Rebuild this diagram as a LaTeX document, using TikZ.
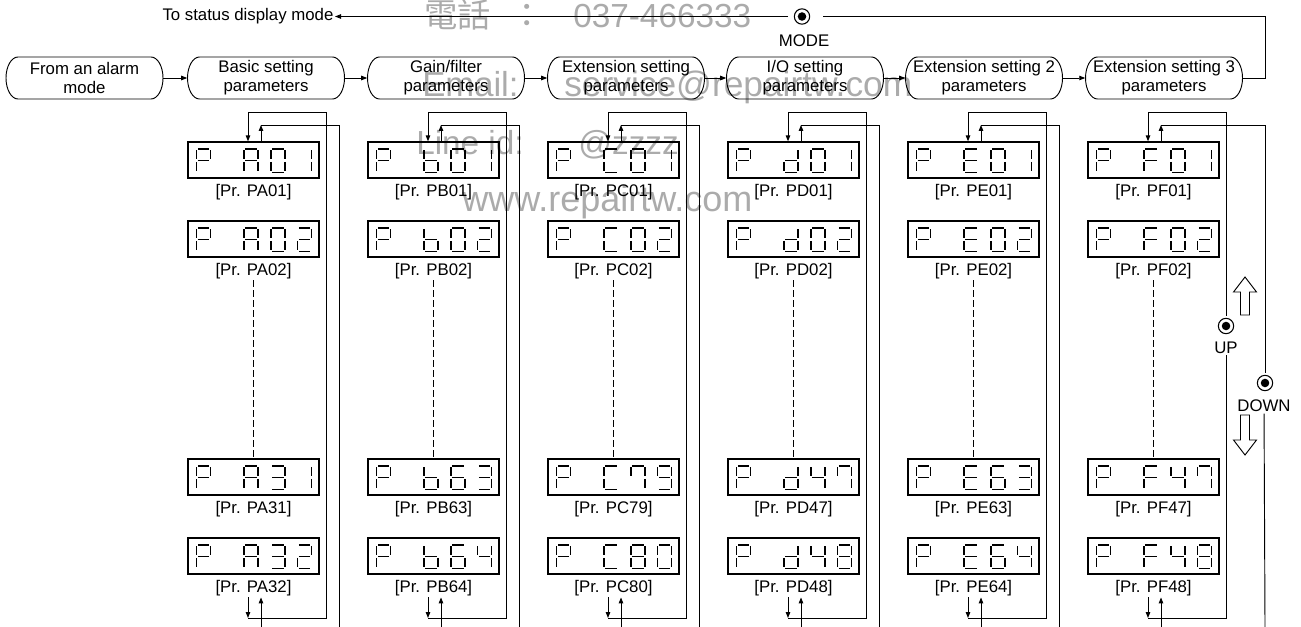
\documentclass[tikz,border=0pt]{standalone}
\usepackage{fontspec}
\setmainfont{Liberation Sans}
\newfontfamily\cjkfont{Noto Sans CJK TC}
\usetikzlibrary{arrows.meta,calc}
\newcommand\mainsz{\fontsize{12.6pt}{14.2pt}\selectfont}
\tikzset{
  conn/.style={line width=0.7pt},
  arr/.style={conn,-{Triangle[length=4.5pt,width=3.4pt]}},
  mbox/.style={minimum width=117.75pt, minimum height=31.5pt, inner sep=0pt, align=center, font=\mainsz},
  boxline/.style={line width=0.7pt},
  disp/.style={draw, line width=1pt, minimum width=98.25pt, minimum height=27pt, inner sep=0pt},
  seg/.style={line width=1.3pt},
  lab/.style={font=\mainsz, inner sep=1pt},
  dashline/.style={conn, dash pattern=on 5pt off 2.5pt},
  btn/.style={circle, draw, line width=0.8pt, minimum size=11.5pt, inner sep=0pt, outer sep=2pt,
    path picture={\fill (path picture bounding box.center) circle[radius=3.2pt];}},
  wm/.style={text=black!33, inner sep=0pt},
}
% seven segment definitions (digit width 14, mid 11.5, bottom 23.5)
\expandafter\def\csname svsga\endcsname{\draw[seg] (1.3,0) -- (12.7,0);}
\expandafter\def\csname svsgb\endcsname{\draw[seg] (14,1.3) -- (14,10.2);}
\expandafter\def\csname svsgc\endcsname{\draw[seg] (14,12.8) -- (14,22.2);}
\expandafter\def\csname svsgd\endcsname{\draw[seg] (1.3,23.5) -- (12.7,23.5);}
\expandafter\def\csname svsge\endcsname{\draw[seg] (0,12.8) -- (0,22.2);}
\expandafter\def\csname svsgf\endcsname{\draw[seg] (0,1.3) -- (0,10.2);}
\expandafter\def\csname svsgg\endcsname{\draw[seg] (1.3,11.5) -- (12.7,11.5);}
\expandafter\def\csname svchP\endcsname{a,b,e,f,g}
\expandafter\def\csname svchA\endcsname{a,b,c,e,f,g}
\expandafter\def\csname svchb\endcsname{c,d,e,f,g}
\expandafter\def\csname svchC\endcsname{a,d,e,f}
\expandafter\def\csname svchd\endcsname{b,c,d,e,g}
\expandafter\def\csname svchE\endcsname{a,d,e,f,g}
\expandafter\def\csname svchF\endcsname{a,e,f,g}
\expandafter\def\csname svch0\endcsname{a,b,c,d,e,f}
\expandafter\def\csname svch1\endcsname{b,c}
\expandafter\def\csname svch2\endcsname{a,b,d,e,g}
\expandafter\def\csname svch3\endcsname{a,b,c,d,g}
\expandafter\def\csname svch4\endcsname{b,c,f,g}
\expandafter\def\csname svch6\endcsname{a,c,d,e,f,g}
\expandafter\def\csname svch7\endcsname{a,b,c,f}
\expandafter\def\csname svch8\endcsname{a,b,c,d,e,f,g}
\expandafter\def\csname svch9\endcsname{a,b,c,d,f,g}
\newcommand\sevchar[3]{\edef\svlist{\csname svch#3\endcsname}%
  \begin{scope}[shift={(#1,#2)}]\foreach \s in \svlist {\csname svsg\s\endcsname}\end{scope}}
\newcommand\sevdisp[6]{\node[disp] (#1) at (#2,#3) {};
  \sevchar{#2-57}{#3-11}{P}\sevchar{#2-9.5}{#3-11}{#4}%
  \sevchar{#2+17.5}{#3-11}{#5}\sevchar{#2+44}{#3-11}{#6}}
\newcommand\paramcol[8]{%
  \sevdisp{d#1a}{#2}{160}{#3}{0}{1}
  \node[lab] (l#1a) at (#2,192) {[Pr. P#401]};
  \sevdisp{d#1b}{#2}{239}{#3}{0}{2}
  \node[lab] (l#1b) at (#2,271) {[Pr. P#402]};
  \sevdisp{d#1c}{#2}{477}{#3}{#5}{#6}
  \node[lab] (l#1c) at (#2,509) {[Pr. P#4#5#6]};
  \sevdisp{d#1d}{#2}{556}{#3}{#7}{#8}
  \node[lab] (l#1d) at (#2,588) {[Pr. P#4#7#8]};
  \draw[dashline] (l#1b) -- (d#1c);}
\newcommand\colcoords[4]{%
  \coordinate (dn#1) at (#2-5.5,112);
  \coordinate (up#1) at (#2+7.5,125);
  \coordinate (dnb#1) at (#2-5.5,618);
  \coordinate (upb#1) at (#2+7.5,627);
  \coordinate (in#1t) at (#3,112);
  \coordinate (in#1b) at (#3,618);
  \coordinate (ou#1t) at (#4,125);
  \coordinate (ou#1b) at (#4,627);
  \draw[arr] (dn#1) -- (dn#1 |- d#1a.north);
  \draw[arr] (up#1 |- d#1a.north) -- (up#1);
  \draw[arr] (dn#1 |- l#1d.south) -- (dnb#1);
  \draw[arr] (upb#1) -- (up#1 |- l#1d.south);}
\newcommand\colloops[4]{\colcoords{#1}{#2}{#3}{#4}
  \draw[conn] (dnb#1) -- (in#1b) -- (in#1t) -- (dn#1);
  \draw[conn] (up#1) -- (ou#1t) -- (ou#1b);}
\newcommand\modebox[3]{\node[mbox] (#1) at (#2,78) {#3};
  \draw[boxline] (#2-66.5,57) -- (#2+66.5,57) .. controls (#2+73.1,57) and (#2+78.5,66.4) .. (#2+78.5,78)
    .. controls (#2+78.5,89.6) and (#2+73.1,99) .. (#2+66.5,99) -- (#2-66.5,99)
    .. controls (#2-73.1,99) and (#2-78.5,89.6) .. (#2-78.5,78)
    .. controls (#2-78.5,66.4) and (#2-73.1,57) .. cycle;}
\begin{document}
\begin{tikzpicture}[x=0.75pt,y=-0.75pt]
\useasboundingbox (0,0) rectangle (1301,627);
% watermarks
\node[wm, anchor=base west, font=\cjkfont\fontsize{25pt}{28pt}\selectfont] (wm1) at (424,28) {電話\hspace{0.6em}：};
\node[wm, anchor=base west, font=\fontsize{25pt}{28pt}\selectfont] (wm2) at (573,28) {037-466333};
\node[wm, anchor=base west, font=\fontsize{26pt}{28pt}\selectfont] (wm3) at (422,97) {Email:};
\node[wm, anchor=base west, font=\fontsize{26.5pt}{28pt}\selectfont] (wm4) at (564,97) {service@repairtw.com};
\node[wm, anchor=base east, font=\fontsize{25pt}{28pt}\selectfont] (wm5) at (524,155) {Line id:};
\node[wm, anchor=base west, font=\fontsize{25pt}{28pt}\selectfont] (wm6) at (578,155) {@zzzz};
\node[wm, anchor=base west, font=\fontsize{27pt}{28pt}\selectfont] (wm7) at (462,212) {www.repairtw.com};
% mode row
\modebox{b0}{84.5}{From an alarm\\mode}
\modebox{b1}{266}{Basic setting\\parameters}
\modebox{b2}{446}{Gain/filter\\parameters}
\modebox{b3}{626}{Extension setting\\parameters}
\modebox{b4}{805}{I/O setting\\parameters}
\modebox{b5}{984}{Extension setting 2\\parameters}
\modebox{b6}{1164}{Extension setting 3\\parameters}
\foreach \p/\q in {b0/b1,b1/b2,b2/b3,b3/b4,b4/b5,b5/b6} \draw[arr] (\p) -- (\q);
\node[lab, anchor=east] (tostat) at (335,16.5) {To status display mode};
\node[btn] (modebtn) at (802,16.5) {};
\node[lab] (modelab) at (804,41) {MODE};
\coordinate (mR) at (823,16.5);
\coordinate (mL) at (788,16.5);
\coordinate (topR) at (1265,78);
\draw[conn] (b6.east) -- (topR) |- (mR);
\draw[arr] (mL) -- (tostat.east);
% parameter columns
\paramcol{0}{253.5}{A}{A}{3}{1}{3}{2}
\paramcol{1}{433.5}{b}{B}{6}{3}{6}{4}
\paramcol{2}{613.5}{C}{C}{7}{9}{8}{0}
\paramcol{3}{793.5}{d}{D}{4}{7}{4}{8}
\paramcol{4}{973.5}{E}{E}{6}{3}{6}{4}
\paramcol{5}{1153.5}{F}{F}{4}{7}{4}{8}
\colloops{0}{253.5}{326.5}{339}
\colloops{1}{433.5}{506.5}{519}
\colloops{2}{613.5}{686.5}{699}
\colloops{3}{793.5}{866.5}{879}
\colloops{4}{973.5}{1046.5}{1059}
% last column with UP / DOWN buttons
\colcoords{5}{1153.5}{1226}{1265}
\node[btn] (upbtn) at (1226,326) {};
\node[lab] (uplab) at (1226,348) {UP};
\node[btn] (dnbtn) at (1265,383) {};
\node[lab] (dnlab) at (1264,406) {DOWN};
\draw[conn] (dn5) -- (in5t) -- (upbtn);
\draw[conn] (uplab) -- (in5b) -- (dnb5);
\draw[conn] (up5) -- (ou5t) -- (dnbtn);
\draw[conn] (dnlab) -- (ou5b);
% hollow arrows
\draw[conn] (1245,277) -- (1256.5,292) -- (1249.5,292) -- (1249.5,315) -- (1240.5,315) -- (1240.5,292) -- (1233.5,292) -- cycle;
\draw[conn] (1245,455) -- (1256.5,440) -- (1249.5,440) -- (1249.5,415) -- (1240.5,415) -- (1240.5,440) -- (1233.5,440) -- cycle;
\end{tikzpicture}
\end{document}
